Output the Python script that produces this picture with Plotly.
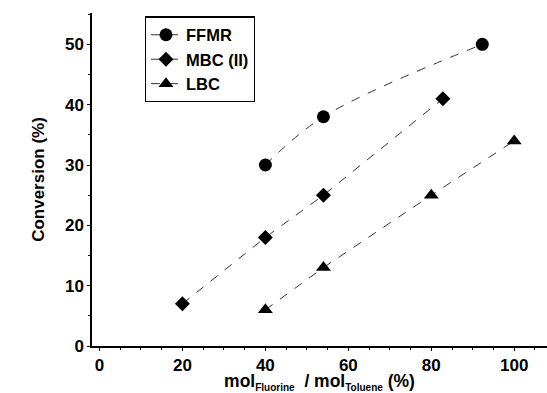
import plotly.graph_objects as go

ffmr_x = [40, 54, 92.3]
ffmr_y = [30, 38, 50]
mbc_x = [20, 40, 54, 82.8]
mbc_y = [7, 18, 25, 41]
lbc_x = [40, 54, 80, 100]
lbc_y = [6, 13, 25, 34]

x_ticks = [0, 20, 40, 60, 80, 100]
y_ticks = [0, 10, 20, 30, 40, 50]

FONT = "Liberation Sans, Arial, sans-serif"
line_style = dict(color="#333333", width=1, dash="dash")

fig = go.Figure()
fig.add_trace(go.Scatter(x=ffmr_x, y=ffmr_y, name="<b>FFMR</b>", mode="lines+markers",
                         line=dict(shape="spline", **line_style),
                         marker=dict(symbol="circle", size=13, color="black")))
fig.add_trace(go.Scatter(x=mbc_x, y=mbc_y, name="<b>MBC (II)</b>", mode="lines+markers",
                         line=line_style,
                         marker=dict(symbol="diamond", size=11.5, color="black")))
fig.add_trace(go.Scatter(x=lbc_x, y=lbc_y, name="<b>LBC</b>", mode="lines+markers",
                         line=line_style,
                         marker=dict(symbol="triangle-up", size=13, color="black")))

axis_common = dict(showgrid=False, zeroline=False, showline=True, linecolor="black", linewidth=1.5,
                   ticks="outside", ticklen=3, tickcolor="black", automargin=False,
                   tickfont=dict(family=FONT, size=17, color="black"),
                   minor=dict(ticks="outside", ticklen=2, tickcolor="black"))

x_title = ("<b>mol<sub><span style='font-size:10px'>Fluorine</span></sub>"
           "  / mol<sub><span style='font-size:10px'>Toluene</span></sub> (%)</b>")

fig.update_layout(
    width=547, height=393,
    margin=dict(l=92, r=0, t=13, b=47),
    paper_bgcolor="white", plot_bgcolor="white",
    font=dict(family=FONT, color="black"),
    showlegend=True,
    legend=dict(x=0.116, y=0.99, xanchor="left", yanchor="top",
                bordercolor="black", borderwidth=1.2, bgcolor="white",
                font=dict(family=FONT, size=16.5, color="black"),
                tracegroupgap=0, itemwidth=30),
    xaxis=dict(range=[-1.8, 107.9], tickvals=x_ticks, ticktext=[f"<b>{v}</b>" for v in x_ticks],
               title=dict(text=x_title,
                          font=dict(family=FONT, size=17.5, color="black"), standoff=3),
               **axis_common),
    yaxis=dict(range=[0, 55.2], tickvals=y_ticks, ticktext=[f"<b>{v}</b>" for v in y_ticks],
               title=dict(text="<b>Conversion (%)</b>",
                          font=dict(family=FONT, size=17, color="black"), standoff=16),
               **axis_common),
)

fig.write_html("out.html", config={"displayModeBar": False},
               post_script="document.body.style.margin='0';document.body.style.overflow='hidden';")
